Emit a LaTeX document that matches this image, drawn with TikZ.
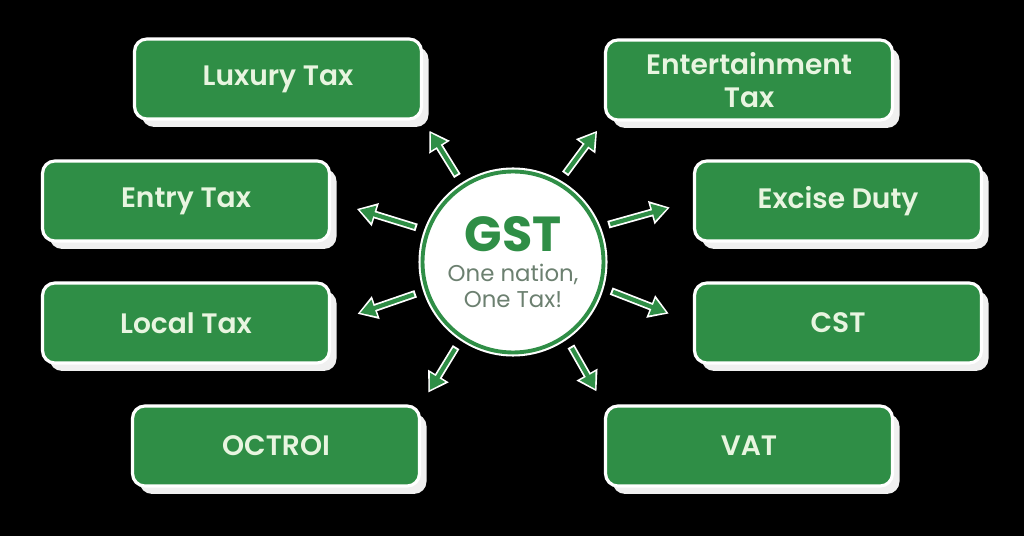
\documentclass[tikz,border=0pt]{standalone}
\usepackage{fontspec}
\setmainfont{Poppins}
\newfontfamily\boxfont{Poppins SemiBold}
\usetikzlibrary{arrows.meta, shadows}

\definecolor{gstgreen}{RGB}{47,142,70}
\definecolor{mint}{RGB}{232,245,224}
\definecolor{subgray}{RGB}{108,128,112}

\tikzset{
    taxbox/.style={rectangle, rounded corners=7pt, fill=gstgreen, draw=white, line width=1.8pt,
        minimum width=5.74cm, minimum height=1.6cm, align=center, text=mint,
        font=\boxfont\fontsize{16}{19}\selectfont,
        drop shadow={shadow xshift=4pt, shadow yshift=-4.5pt, fill=white!88!gray, opacity=1}},
    arrunder/.style={draw=white, line width=4.4pt, -{Triangle[length=11pt, width=13pt]}},
    arrover/.style={draw=gstgreen, line width=2.4pt, -{Triangle[length=8.5pt, width=9.5pt]}},
}

\begin{document}
\begin{tikzpicture}[x=0.02cm, y=-0.02cm]
    \fill[black] (0,0) rectangle (1024,536);

    % the centre
    \node[circle, fill=white, draw=gstgreen, line width=2.2pt, minimum size=3.62cm,
        inner sep=1pt, preaction={draw=white, line width=4.6pt}, align=center,
        text=subgray, font=\fontsize{13}{15}\selectfont] (gst) at (513,262)
        {{\color{gstgreen}\fontsize{28}{28}\selectfont\bfseries GST}\\[2pt] One nation,\\ One Tax!};

    % left column
    \node[taxbox] (lux) at (278,79) {Luxury Tax};
    \node[taxbox] (entry) at (186,201) {Entry Tax};
    \node[taxbox] (loc) at (186,323) {Local Tax};
    \node[taxbox] (oct) at (276,446) {OCTROI};
    % right column
    \node[taxbox] (ent) at (749,80) {Entertainment\\Tax};
    \node[taxbox] (exc) at (838,201) {Excise Duty};
    \node[taxbox] (cst) at (838,323) {CST};
    \node[taxbox] (vat) at (749,446) {VAT};

    \foreach \b/\ang/\anc/\e in {lux/123/south east/0.24, ent/60/south west/0.23,
        entry/160/east/0.54, exc/22/west/0.48, loc/198/east/0.56, cst/344/west/0.52,
        oct/236/north east/0.28, vat/305/north west/0.3} {
        \draw[arrunder, shorten <=0.2cm, shorten >=\e cm] (gst.\ang) -- (\b.\anc);
        \draw[arrover, shorten <=0.24cm, shorten >=\e cm+1.6pt] (gst.\ang) -- (\b.\anc);
    }
\end{tikzpicture}
\end{document}
